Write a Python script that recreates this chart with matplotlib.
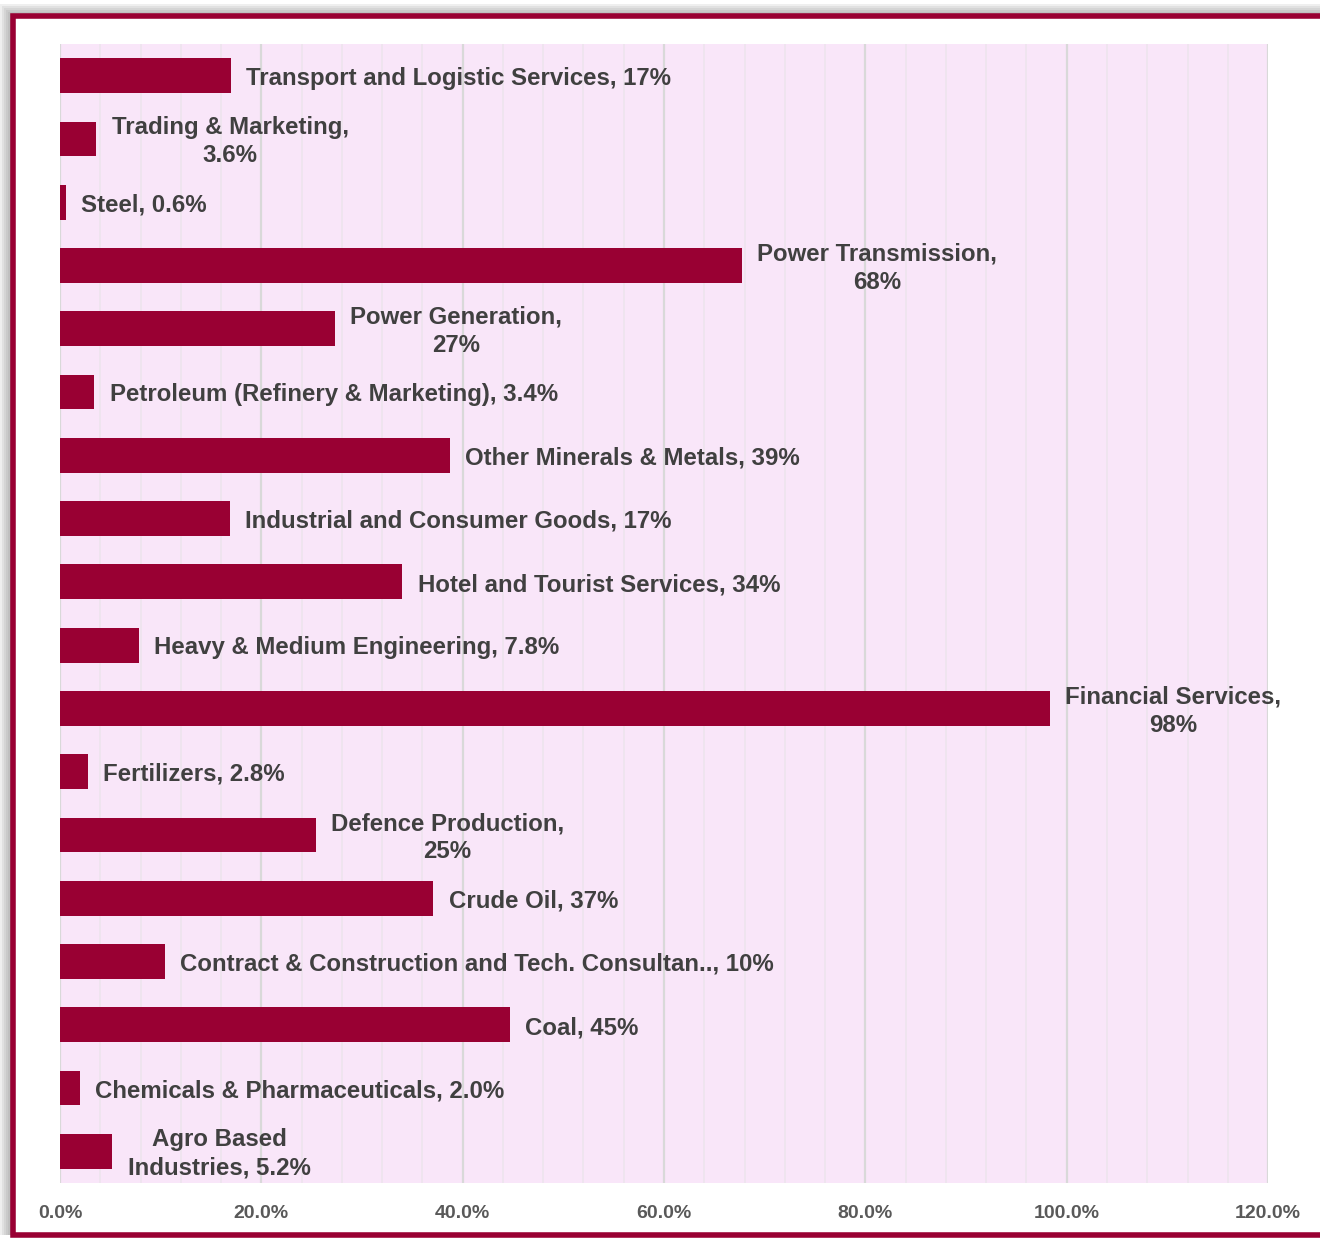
import numpy as np
import matplotlib.pyplot as plt
from matplotlib.patches import Rectangle

# data, top to bottom as drawn
sectors = [
    'Transport and Logistic Services', 'Trading & Marketing,\n', 'Steel',
    'Power Transmission,\n', 'Power Generation,\n', 'Petroleum (Refinery & Marketing)',
    'Other Minerals & Metals', 'Industrial and Consumer Goods', 'Hotel and Tourist Services',
    'Heavy & Medium Engineering', 'Financial Services,\n', 'Fertilizers',
    'Defence Production,\n', 'Crude Oil', 'Contract & Construction and Tech. Consultan..',
    'Coal', 'Chemicals & Pharmaceuticals', 'Agro Based\nIndustries',
]
share = [17.0, 3.6, 0.6, 67.7, 27.3, 3.4, 38.7, 16.9, 34.0, 7.8, 98.3, 2.8,
         25.4, 37.1, 10.4, 44.7, 2.0, 5.2]
xticks = [0, 20, 40, 60, 80, 100, 120]
xtick_labels = ['0.0%', '20.0%', '40.0%', '60.0%', '80.0%', '100.0%', '120.0%']

bar_col = '#990033'
bg_col = '#F9E6F9'
txt_col = '#404040'


def fmt(v):
    if v >= 10:
        return f'{v:.0f}%'
    return f'{v:.1f}%'


fig = plt.figure(figsize=(13.2, 12.39), dpi=100)

# soft shadow behind the frame (top / left)
for i in range(6):
    d = 0.0016 * (6 - i)
    fig.patches.append(Rectangle((0.0095 - d, 0.003), 1.2, 0.984 + d,
                                 transform=fig.transFigure, facecolor='#7f7f7f',
                                 edgecolor='none', alpha=0.12, zorder=0))
fig.patches.append(Rectangle((0.0095, 0.003), 1.2, 0.984, transform=fig.transFigure,
                             facecolor='white', edgecolor=bar_col, lw=4, zorder=1))

ax = fig.add_axes([0.04545, 0.0452, 0.9152, 0.9193])
ax.set_facecolor(bg_col)
ax.set_zorder(2)

y = np.arange(len(sectors))
ax.barh(y, share, height=0.55, color=bar_col, zorder=3)

for yi, name, v in zip(y, sectors, share):
    if name.endswith('\n'):
        label = name + fmt(v)
    else:
        label = name + ', ' + fmt(v)
    ax.annotate(label, (v, yi), xytext=(11, -2), textcoords='offset points',
                ha='left', va='center', multialignment='center',
                fontsize=17.3, fontweight='bold', color=txt_col,
                family='Liberation Sans', linespacing=1.3, zorder=4,
                annotation_clip=False)

ax.set_xlim(0, 120)
ax.set_ylim(len(sectors) - 0.5, -0.5)
ax.set_xticks(xticks)
ax.set_xticklabels(xtick_labels, fontsize=14, fontweight='bold', color='#595959',
                   family='Liberation Sans')
ax.set_xticks(np.arange(0, 121, 4), minor=True)
ax.set_yticks([])
ax.tick_params(axis='x', which='both', length=0, pad=16)
ax.grid(axis='x', which='minor', color='#EEE4EE', lw=1.3, zorder=1)
ax.grid(axis='x', which='major', color='#D9D9D9', lw=1.6, zorder=2)
for s in ax.spines.values():
    s.set_visible(False)

fig.savefig('out.png', dpi=100)
